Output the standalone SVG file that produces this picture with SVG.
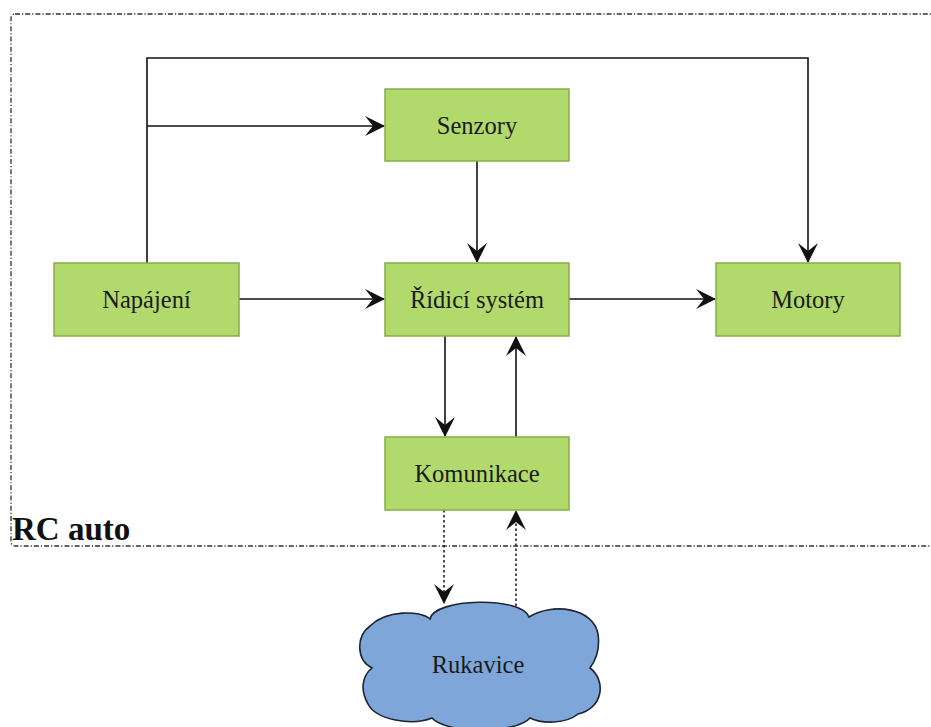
<svg xmlns="http://www.w3.org/2000/svg" width="931" height="727" viewBox="0 0 931 727">
  <style>
    .box { fill: #b2d96b; stroke: #86ad47; stroke-width: 1.5; }
    .lbl { font-family: "Liberation Serif", "Times New Roman", serif; font-size: 24.5px; fill: #1a1a1a; text-anchor: middle; }
    .edge { fill: none; stroke: #111; stroke-width: 1.6; }
    .dotted { fill: none; stroke: #222; stroke-width: 1.6; stroke-dasharray: 2.5 2.5; }
    .frame { fill: none; stroke: #333; stroke-width: 1.3; stroke-dasharray: 5 2 1.2 2; }
  </style>
  <defs>
    <marker id="arrow" viewBox="0 0 20 22" refX="19" refY="11" markerWidth="20" markerHeight="22" markerUnits="userSpaceOnUse" orient="auto">
      <path d="M0,1 L20,11 L0,21 L8,11 Z" fill="#111"/>
    </marker>
  </defs>

  <rect width="931" height="727" fill="#fff"/>

  <!-- system boundary -->
  <g id="rc-auto">
    <rect class="frame" x="11" y="14" width="935" height="532" rx="4"/>
    <text x="12" y="540" font-family="Liberation Serif, Times New Roman, serif" font-size="33" font-weight="bold" fill="#111">RC auto</text>
  </g>

  <!-- connectors -->
  <g id="connectors">
    <path class="edge" d="M147,263 V58 H808 V262" marker-end="url(#arrow)"/>
    <path class="edge" d="M147,126 H384" marker-end="url(#arrow)"/>
    <path class="edge" d="M477,161 V262" marker-end="url(#arrow)"/>
    <path class="edge" d="M239,299 H384" marker-end="url(#arrow)"/>
    <path class="edge" d="M569,299 H715" marker-end="url(#arrow)"/>
    <path class="edge" d="M445,336 V436" marker-end="url(#arrow)"/>
    <path class="edge" d="M516,437 V337" marker-end="url(#arrow)"/>
    <path class="dotted" d="M444,510 V603" marker-end="url(#arrow)"/>
    <path class="dotted" d="M516,606 V511" marker-end="url(#arrow)"/>
  </g>

  <g id="senzory">
    <rect class="box" x="385" y="89" width="184" height="72"/>
    <text class="lbl" x="477" y="133.5">Senzory</text>
  </g>

  <g id="napajeni">
    <rect class="box" x="54" y="263" width="185" height="73"/>
    <text class="lbl" x="146.5" y="307.5">Napájení</text>
  </g>

  <g id="ridici-system">
    <rect class="box" x="385" y="263" width="184" height="73"/>
    <text class="lbl" x="477" y="307.5">Řídicí systém</text>
  </g>

  <g id="motory">
    <rect class="box" x="716" y="263" width="184" height="73"/>
    <text class="lbl" x="808" y="307.5">Motory</text>
  </g>

  <g id="komunikace">
    <rect class="box" x="385" y="437" width="184" height="73"/>
    <text class="lbl" x="477" y="481.5">Komunikace</text>
  </g>

  <!-- cloud: six lobes with sharp cusps between them -->
  <g id="rukavice">
    <path d="M430,619 C434,598 522,596 529,617 C552,602 594,608 598,634 C600,648 596,660 590,668 C606,680 604,708 578,714 C566,724 542,724 530,718 C516,734 446,734 432,718 C412,726 376,720 368,704 C360,690 362,676 372,668 C356,660 356,636 370,626 C386,610 420,610 430,619 Z" fill="#7ea6d9" stroke="#1b2532" stroke-width="1.6"/>
    <text class="lbl" x="478" y="673" fill="#1b2532">Rukavice</text>
  </g>
</svg>
